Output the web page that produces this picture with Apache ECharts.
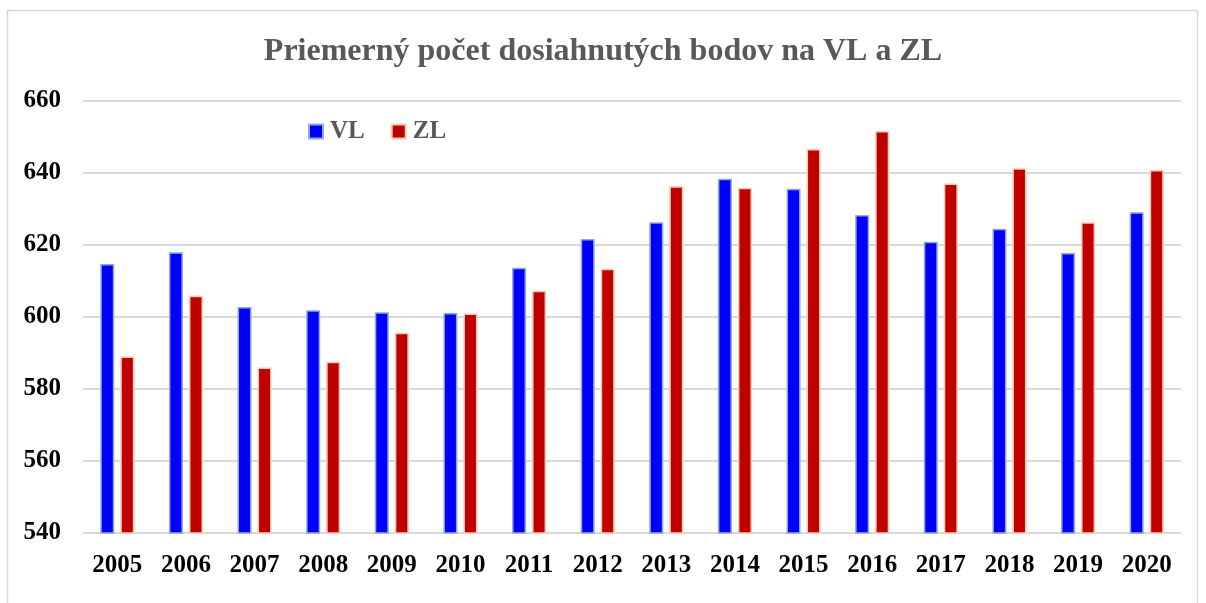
<!DOCTYPE html>
<html>
<head>
<meta charset="utf-8">
<script src="https://cdn.jsdelivr.net/npm/echarts@6/dist/echarts.min.js"></script>
<style>
  html, body { margin: 0; padding: 0; background: #fff; }
  #chart { width: 1206px; height: 603px; }
</style>
</head>
<body>
<div id="chart"></div>
<script>
// roky a priemerné body
const years = ["2005", "2006", "2007", "2008", "2009", "2010", "2011", "2012",
  "2013", "2014", "2015", "2016", "2017", "2018", "2019", "2020"];
const vl = [614.7, 618.0, 602.8, 601.9, 601.3, 601.1, 613.7, 621.7,
  626.3, 638.4, 635.6, 628.3, 620.9, 624.5, 617.8, 629.1];
const zl = [589.0, 605.9, 586.0, 587.6, 595.6, 601.0, 607.3, 613.4,
  636.3, 635.9, 646.7, 651.7, 637.1, 641.3, 626.3, 640.8];

const serif = "'Liberation Serif', 'DejaVu Serif', serif";

const chart = echarts.init(document.getElementById("chart"));
chart.setOption({
  animation: false,
  backgroundColor: "#fff",
  graphic: [{
    type: "rect",
    shape: { x: 7.5, y: 10.5, width: 1190, height: 620 },
    style: { fill: "none", stroke: "#d9d9d9", lineWidth: 1.5 },
    silent: true
  }],
  title: {
    text: "Priemerný počet dosiahnutých bodov na VL a ZL",
    left: "center",
    top: 31,
    textStyle: { fontFamily: serif, fontWeight: "bold", fontSize: 32, color: "#595959" }
  },
  legend: {
    left: 303,
    top: 114,
    itemWidth: 14,
    itemHeight: 14,
    itemGap: 26,
    icon: "rect",
    textStyle: { fontFamily: serif, fontWeight: "bold", fontSize: 25, color: "#595959", padding: [0, 0, 0, 2] },
    data: ["VL", "ZL"]
  },
  grid: { left: 83, right: 25, top: 101, bottom: 70 },
  xAxis: {
    type: "category",
    data: years,
    axisLine: { show: false },
    axisTick: { show: false },
    axisLabel: { fontFamily: serif, fontWeight: "bold", fontSize: 25, color: "#000", margin: 20 }
  },
  yAxis: {
    type: "value",
    min: 540,
    max: 660,
    interval: 20,
    axisLine: { show: false },
    axisTick: { show: false },
    splitLine: { lineStyle: { color: "#d9d9d9", width: 2 } },
    axisLabel: { fontFamily: serif, fontWeight: "bold", fontSize: 25, color: "#000", margin: 22 }
  },
  series: [
    {
      name: "VL",
      type: "bar",
      data: vl,
      barWidth: 14,
      barGap: "43%",
      itemStyle: { color: "#0000ff", borderColor: "#8eaadb", borderWidth: 1.5 }
    },
    {
      name: "ZL",
      type: "bar",
      data: zl,
      barWidth: 14,
      itemStyle: { color: "#c00000", borderColor: "#f8cbad", borderWidth: 1.5 }
    }
  ]
});
</script>
</body>
</html>
